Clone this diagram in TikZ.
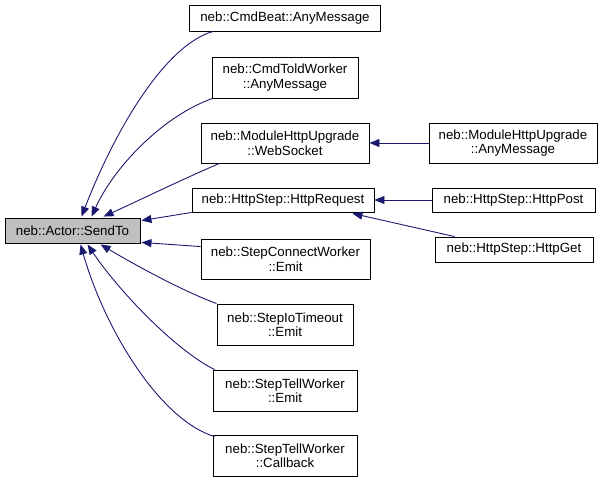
\documentclass[tikz,border=0pt]{standalone}
\usepackage{fontspec}
\setmainfont{Liberation Sans}
\usetikzlibrary{arrows.meta,calc}
\definecolor{edgeblue}{RGB}{25,25,112}
\definecolor{boxgray}{RGB}{191,191,191}
\begin{document}
\begin{tikzpicture}[x=1pt,y=-1pt,
  fn/.style={draw=black,line width=0.9pt,fill=white,inner sep=0pt,align=center,
    font=\fontsize{13.3}{14.5}\selectfont},
  cur/.style={fn,fill=boxgray},
  call/.style={draw=edgeblue,line width=0.9pt,
    {Triangle[length=10pt,width=8pt,fill=edgeblue]}-}]
\useasboundingbox (0,0) rectangle (603,481);
% nodes
\node[cur,minimum width=135pt,minimum height=25pt] (send) at (72.5,230.5) {neb::Actor::SendTo};
\node[fn,minimum width=191pt,minimum height=26pt] (beat) at (285,18) {neb::CmdBeat::AnyMessage};
\node[fn,minimum width=146pt,minimum height=41pt] (told) at (285,77.5) {neb::CmdToldWorker\\::AnyMessage};
\node[fn,minimum width=168pt,minimum height=40pt] (ws) at (285,143) {neb::ModuleHttpUpgrade\\::WebSocket};
\node[fn,minimum width=168pt,minimum height=40pt] (wsany) at (513,143) {neb::ModuleHttpUpgrade\\::AnyMessage};
\node[fn,minimum width=182pt,minimum height=24pt] (req) at (283,200) {neb::HttpStep::HttpRequest};
\node[fn,minimum width=163pt,minimum height=24pt] (post) at (513.5,200) {neb::HttpStep::HttpPost};
\node[fn,minimum width=158pt,minimum height=25pt] (get) at (514,249.5) {neb::HttpStep::HttpGet};
\node[fn,minimum width=169pt,minimum height=40pt] (conn) at (285.5,259) {neb::StepConnectWorker\\::Emit};
\node[fn,minimum width=136pt,minimum height=41pt] (iot) at (285,324.5) {neb::StepIoTimeout\\::Emit};
\node[fn,minimum width=144pt,minimum height=41pt] (tell) at (285,390.5) {neb::StepTellWorker\\::Emit};
\node[fn,minimum width=144pt,minimum height=41pt] (cb) at (285,455.5) {neb::StepTellWorker\\::Callback};
% edges (arrow at the called function)
\draw[call] ($(send.north west)+(77,-1)$) .. controls (115,130) and (165,45) .. ($(beat.south west)+(24,0)$);
\draw[call] ($(send.north west)+(87,-1)$) .. controls (115,165) and (165,115) .. ($(told.south west)+(1,0)$);
\draw[call] ($(send.north west)+(99,-1)$) .. controls (140,200) and (185,178) .. ($(ws.south west)+(19,0)$);
\draw[call] ($(send.north east)+(1,3)$) -- (req.south west);
\draw[call] ($(send.south east)+(1,-1)$) -- ($(conn.north west)+(0,8)$);
\draw[call] ($(send.south west)+(96,1)$) .. controls (130,262) and (180,290) .. (iot.north west);
\draw[call] ($(send.south west)+(83,1)$) .. controls (118,290) and (175,350) .. ($(tell.north west)+(2,0)$);
\draw[call] ($(send.south west)+(76,1)$) .. controls (105,330) and (160,420) .. ($(cb.north west)+(2,2)$);
\draw[call] (ws.east) -- (wsany.west);
\draw[call] (req.east) -- (post.west);
\draw[call] ($(req.south east)+(-22,1)$) -- ($(get.north west)+(20,0)$);
\end{tikzpicture}
\end{document}
